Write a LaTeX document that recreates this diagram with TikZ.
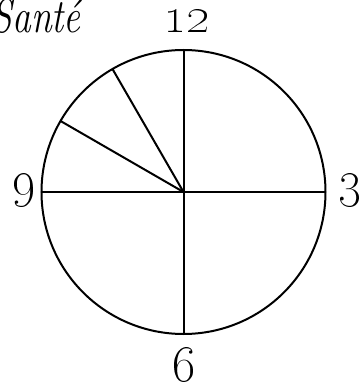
\documentclass[tikz,border=0pt]{standalone}
\begin{document}
\begin{tikzpicture}[x=1pt,y=1pt,
  stroke/.style={line width=2pt,black},
  lbl/.style={inner sep=0pt,anchor=base,font=\fontsize{50}{56}\selectfont,scale=1.45}]
\useasboundingbox (0,0) rectangle (360,384);
\coordinate (c) at (183.5,192);
\coordinate (t) at (183.5,334);
\coordinate (b) at (183.5,50);
\coordinate (l) at (41.5,192);
\coordinate (r) at (325.5,192);
\coordinate (h11) at ([shift={(120:142)}]c);
\coordinate (h10) at ([shift={(150:142)}]c);
\draw[stroke] (c) circle[radius=142];
\draw[stroke] (t) -- (b);
\draw[stroke] (l) -- (r);
\draw[stroke] (c) -- (h11);
\draw[stroke] (c) -- (h10);
\node[inner sep=0pt,anchor=base east,xscale=0.78,font=\fontsize{48}{54}\selectfont\itshape] (s) at (81,351) {Sant\'e};
\node[lbl] (n12) at (187,351) {\oldstylenums{12}};
\node[lbl] (n9) at (24,188) {\oldstylenums{9}};
\node[lbl] (n3) at (350,188) {\oldstylenums{3}};
\node[lbl] (n6) at (184,2) {\oldstylenums{6}};
\end{tikzpicture}
\end{document}
